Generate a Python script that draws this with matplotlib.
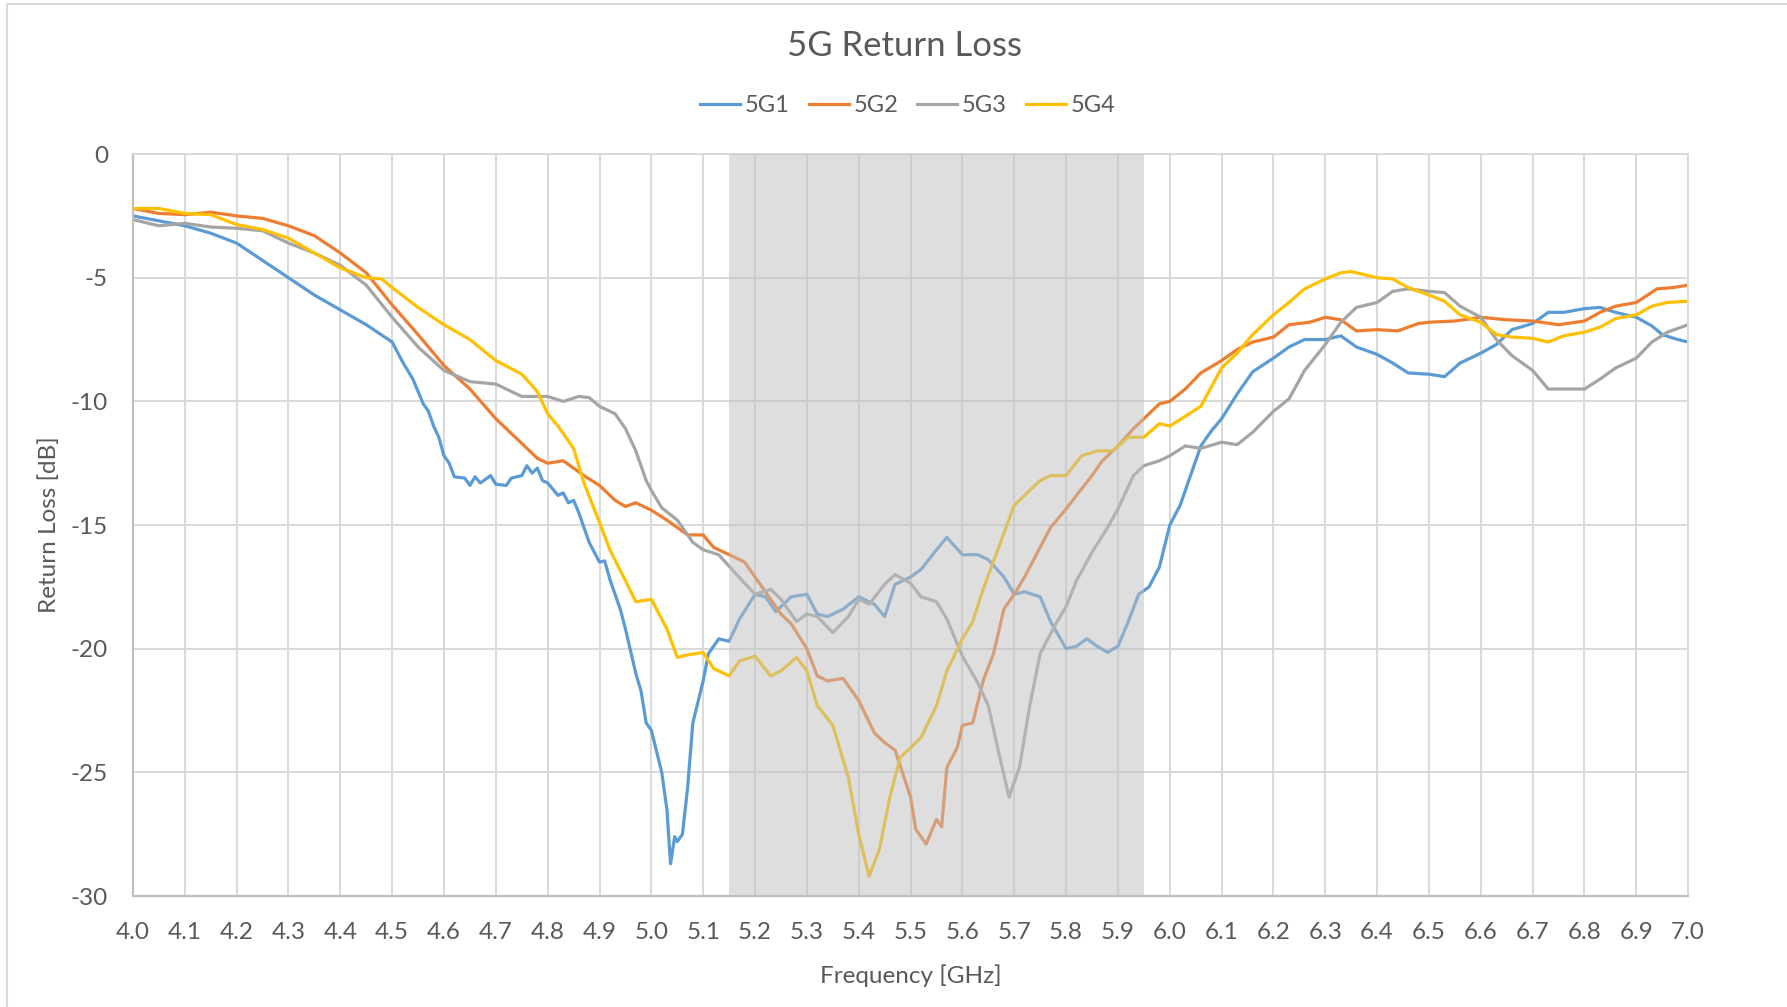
import matplotlib
matplotlib.use("Agg")
import matplotlib.pyplot as plt
from matplotlib.lines import Line2D

plt.rcParams['font.family'] = ['Lato', 'DejaVu Sans']
plt.rcParams['axes.unicode_minus'] = False

# 5G1
f1 = [4.00, 4.05, 4.10, 4.15, 4.20, 4.25, 4.30, 4.35, 4.40, 4.45, 4.50, 4.52, 4.54, 4.56, 4.57,
      4.58, 4.59, 4.60, 4.61, 4.62, 4.64, 4.65, 4.66, 4.67, 4.69, 4.70, 4.72, 4.73, 4.75, 4.76,
      4.77, 4.78, 4.79, 4.80, 4.82, 4.83, 4.84, 4.85, 4.86, 4.88, 4.90, 4.91, 4.92, 4.94, 4.95,
      4.97, 4.98, 4.99, 5.00, 5.02, 5.03, 5.037, 5.045, 5.05, 5.06, 5.07, 5.08, 5.10, 5.11, 5.13,
      5.15, 5.17, 5.20, 5.22, 5.24, 5.27, 5.30, 5.32, 5.34, 5.37, 5.40, 5.43, 5.45, 5.47, 5.50,
      5.52, 5.55, 5.57, 5.60, 5.63, 5.65, 5.68, 5.70, 5.72, 5.75, 5.77, 5.80, 5.82, 5.84, 5.86,
      5.88, 5.90, 5.92, 5.94, 5.96, 5.98, 6.00, 6.02, 6.03, 6.06, 6.08, 6.10, 6.13, 6.16, 6.20,
      6.23, 6.26, 6.30, 6.33, 6.36, 6.40, 6.43, 6.46, 6.50, 6.53, 6.56, 6.60, 6.63, 6.66, 6.70,
      6.73, 6.76, 6.80, 6.83, 6.86, 6.90, 6.93, 6.95, 6.98, 7.00]
rl1 = [-2.5, -2.7, -2.9, -3.2, -3.6, -4.3, -5.0, -5.7, -6.3, -6.9, -7.6, -8.4, -9.1, -10.1, -10.4,
       -11.0, -11.45, -12.2, -12.5, -13.05, -13.1, -13.4, -13.05, -13.3, -13.0, -13.35, -13.4, -13.1, -13.0, -12.6,
       -12.9, -12.7, -13.2, -13.3, -13.8, -13.7, -14.1, -14.0, -14.5, -15.7, -16.5, -16.45, -17.2, -18.4, -19.2,
       -21.0, -21.7, -23.0, -23.3, -25.0, -26.5, -28.7, -27.6, -27.8, -27.5, -25.6, -23.0, -21.3, -20.2, -19.6,
       -19.7, -18.8, -17.8, -17.9, -18.5, -17.9, -17.8, -18.6, -18.7, -18.4, -17.9, -18.2, -18.7, -17.4, -17.1,
       -16.8, -16.0, -15.5, -16.2, -16.2, -16.4, -17.1, -17.8, -17.7, -17.9, -18.9, -20.0, -19.9, -19.6, -19.9,
       -20.15, -19.9, -18.9, -17.8, -17.5, -16.7, -15.0, -14.2, -13.6, -11.8, -11.2, -10.7, -9.7, -8.8, -8.25,
       -7.8, -7.5, -7.5, -7.35, -7.8, -8.1, -8.45, -8.85, -8.9, -9.0, -8.45, -8.05, -7.7, -7.1, -6.85,
       -6.4, -6.4, -6.25, -6.2, -6.4, -6.6, -6.95, -7.3, -7.5, -7.6]

# 5G2
f2 = [4.00, 4.05, 4.10, 4.15, 4.20, 4.25, 4.30, 4.35, 4.40, 4.45, 4.50, 4.55, 4.60, 4.65, 4.70,
      4.75, 4.78, 4.80, 4.83, 4.85, 4.87, 4.90, 4.93, 4.95, 4.97, 5.00, 5.03, 5.07, 5.10, 5.12,
      5.15, 5.18, 5.20, 5.23, 5.25, 5.27, 5.30, 5.32, 5.34, 5.37, 5.40, 5.43, 5.45, 5.47, 5.50,
      5.51, 5.53, 5.55, 5.56, 5.57, 5.59, 5.60, 5.62, 5.64, 5.66, 5.68, 5.70, 5.72, 5.75, 5.77,
      5.80, 5.82, 5.85, 5.87, 5.90, 5.93, 5.95, 5.98, 6.00, 6.03, 6.06, 6.10, 6.13, 6.16, 6.20,
      6.23, 6.27, 6.30, 6.33, 6.36, 6.40, 6.44, 6.48, 6.50, 6.55, 6.60, 6.65, 6.70, 6.75, 6.80,
      6.83, 6.86, 6.90, 6.94, 6.97, 7.00]
rl2 = [-2.2, -2.4, -2.45, -2.35, -2.5, -2.6, -2.9, -3.3, -4.0, -4.8, -6.1, -7.3, -8.55, -9.5, -10.7,
       -11.7, -12.3, -12.5, -12.4, -12.7, -13.0, -13.4, -14.0, -14.25, -14.1, -14.4, -14.8, -15.4, -15.4, -15.9,
       -16.2, -16.5, -17.1, -18.0, -18.6, -19.0, -20.0, -21.1, -21.3, -21.2, -22.1, -23.4, -23.8, -24.1, -26.0,
       -27.3, -27.9, -26.9, -27.2, -24.8, -24.0, -23.1, -23.0, -21.3, -20.2, -18.4, -17.8, -17.1, -15.9, -15.1,
       -14.35, -13.8, -13.0, -12.4, -11.8, -11.1, -10.7, -10.1, -10.0, -9.5, -8.85, -8.35, -7.9, -7.6, -7.4,
       -6.9, -6.8, -6.6, -6.7, -7.15, -7.1, -7.15, -6.85, -6.8, -6.75, -6.6, -6.7, -6.75, -6.9, -6.75,
       -6.4, -6.15, -6.0, -5.45, -5.4, -5.3]

# 5G3
f3 = [4.00, 4.05, 4.10, 4.15, 4.20, 4.25, 4.30, 4.35, 4.40, 4.45, 4.50, 4.55, 4.60, 4.65, 4.70,
      4.75, 4.80, 4.83, 4.86, 4.88, 4.90, 4.93, 4.95, 4.97, 4.99, 5.00, 5.02, 5.05, 5.08, 5.10,
      5.13, 5.16, 5.20, 5.23, 5.25, 5.28, 5.30, 5.32, 5.35, 5.38, 5.40, 5.42, 5.45, 5.47, 5.50,
      5.52, 5.55, 5.57, 5.60, 5.63, 5.65, 5.67, 5.69, 5.71, 5.73, 5.75, 5.78, 5.80, 5.82, 5.85,
      5.88, 5.90, 5.93, 5.95, 5.98, 6.00, 6.03, 6.06, 6.10, 6.13, 6.16, 6.20, 6.23, 6.26, 6.30,
      6.33, 6.36, 6.40, 6.43, 6.46, 6.50, 6.53, 6.56, 6.60, 6.63, 6.66, 6.70, 6.73, 6.76, 6.80,
      6.83, 6.86, 6.90, 6.93, 6.96, 7.00]
rl3 = [-2.65, -2.9, -2.8, -2.95, -3.0, -3.1, -3.6, -4.0, -4.5, -5.3, -6.6, -7.8, -8.75, -9.2, -9.3,
       -9.8, -9.8, -10.0, -9.8, -9.85, -10.2, -10.5, -11.1, -12.0, -13.2, -13.6, -14.3, -14.8, -15.7, -16.0,
       -16.2, -16.9, -17.8, -17.6, -18.0, -18.9, -18.6, -18.7, -19.35, -18.7, -18.0, -18.2, -17.4, -17.0, -17.35,
       -17.9, -18.1, -18.8, -20.3, -21.4, -22.3, -24.2, -26.0, -24.8, -22.3, -20.2, -19.0, -18.3, -17.25, -16.1,
       -15.1, -14.35, -13.0, -12.6, -12.4, -12.2, -11.8, -11.9, -11.65, -11.75, -11.25, -10.4, -9.9, -8.75, -7.7,
       -6.8, -6.2, -6.0, -5.55, -5.45, -5.55, -5.6, -6.15, -6.6, -7.5, -8.15, -8.75, -9.5, -9.5, -9.5,
       -9.1, -8.65, -8.25, -7.6, -7.2, -6.9]

# 5G4
f4 = [4.00, 4.05, 4.10, 4.15, 4.20, 4.25, 4.30, 4.35, 4.40, 4.45, 4.48, 4.50, 4.55, 4.60, 4.65,
      4.70, 4.75, 4.78, 4.80, 4.82, 4.85, 4.87, 4.90, 4.92, 4.95, 4.97, 5.00, 5.03, 5.05, 5.07,
      5.10, 5.12, 5.15, 5.17, 5.20, 5.23, 5.25, 5.28, 5.30, 5.32, 5.35, 5.38, 5.40, 5.42, 5.44,
      5.46, 5.48, 5.50, 5.52, 5.55, 5.57, 5.60, 5.62, 5.64, 5.67, 5.70, 5.72, 5.75, 5.77, 5.80,
      5.83, 5.86, 5.89, 5.92, 5.95, 5.98, 6.00, 6.03, 6.06, 6.10, 6.13, 6.16, 6.20, 6.23, 6.26,
      6.30, 6.33, 6.35, 6.38, 6.40, 6.43, 6.46, 6.50, 6.53, 6.56, 6.60, 6.63, 6.66, 6.70, 6.73,
      6.76, 6.80, 6.83, 6.86, 6.90, 6.93, 6.96, 7.00]
rl4 = [-2.2, -2.2, -2.4, -2.45, -2.85, -3.05, -3.4, -4.0, -4.6, -5.0, -5.05, -5.4, -6.2, -6.9, -7.5,
       -8.35, -8.9, -9.6, -10.5, -11.0, -11.9, -13.3, -14.9, -16.0, -17.25, -18.1, -18.0, -19.2, -20.35, -20.25,
       -20.15, -20.8, -21.1, -20.5, -20.3, -21.1, -20.9, -20.35, -20.9, -22.3, -23.1, -25.2, -27.5, -29.2, -28.1,
       -26.0, -24.4, -24.0, -23.6, -22.3, -20.9, -19.6, -18.9, -17.6, -15.9, -14.2, -13.8, -13.2, -13.0, -13.0,
       -12.2, -12.0, -12.0, -11.45, -11.45, -10.9, -11.0, -10.6, -10.2, -8.65, -8.05, -7.3, -6.5, -6.0, -5.45,
       -5.05, -4.8, -4.75, -4.9, -5.0, -5.05, -5.4, -5.7, -5.95, -6.5, -6.8, -7.3, -7.4, -7.45, -7.6,
       -7.35, -7.2, -7.0, -6.65, -6.5, -6.15, -6.0, -5.95]

series = [("5G1", f1, rl1, "#5B9BD5"), ("5G2", f2, rl2, "#ED7D31"),
          ("5G3", f3, rl3, "#A5A5A5"), ("5G4", f4, rl4, "#FFC000")]
band = (5.15, 5.95)
x_ticks = [4.0 + 0.1 * i for i in range(31)]
y_ticks = [0, -5, -10, -15, -20, -25, -30]

txt = "#595959"
grid_c = "#D9D9D9"

fig = plt.figure(figsize=(17.87, 10.07), dpi=100)
ax = fig.add_axes([0.0744, 0.1102, 0.8703, 0.7368])

for name, f, rl, c in series:
    ax.plot(f, rl, color=c, lw=2.3, label=name, zorder=2, solid_joinstyle='round')

ax.axvspan(band[0], band[1], color="#BFBFBF", alpha=0.5, lw=0, zorder=3)

ax.set_xlim(4.0, 7.0)
ax.set_ylim(-30, 0)
ax.set_xticks(x_ticks)
ax.set_xticklabels(["%.1f" % t for t in x_ticks])
ax.set_yticks(y_ticks)
ax.set_yticklabels([str(t) for t in y_ticks])
ax.grid(True, color=grid_c, lw=1.4, zorder=0)
ax.set_axisbelow(True)
ax.tick_params(length=0, labelsize=17.5, colors=txt)
ax.tick_params(axis='x', pad=19)
ax.tick_params(axis='y', pad=18)
for side in ['top', 'right']:
    ax.spines[side].set_color(grid_c)
    ax.spines[side].set_linewidth(1.4)
for side in ['left', 'bottom']:
    ax.spines[side].set_color("#BFBFBF")
    ax.spines[side].set_linewidth(1.6)

ax.set_xlabel("Frequency [GHz]", fontsize=17.5, color=txt)
ax.set_ylabel("Return Loss [dB]", fontsize=17.5, color=txt)
ax.xaxis.set_label_coords(0.5, -0.092)
ax.yaxis.set_label_coords(-0.047, 0.5)

fig.text(0.506, 0.954, "5G Return Loss", ha='center', va='center', fontsize=25, color=txt)
leg = fig.legend(loc='center', bbox_to_anchor=(0.508, 0.895), ncol=4, frameon=False,
                 fontsize=17, handlelength=1.7, handletextpad=0.2, columnspacing=0.8)
for t in leg.get_texts():
    t.set_color(txt)

# chart border
fig.add_artist(Line2D([0.004, 1.0], [0.996, 0.996], color=grid_c, lw=1.5, transform=fig.transFigure))
fig.add_artist(Line2D([0.004, 0.004], [0.0, 0.996], color=grid_c, lw=1.5, transform=fig.transFigure))

fig.savefig("out.png", dpi=100)
